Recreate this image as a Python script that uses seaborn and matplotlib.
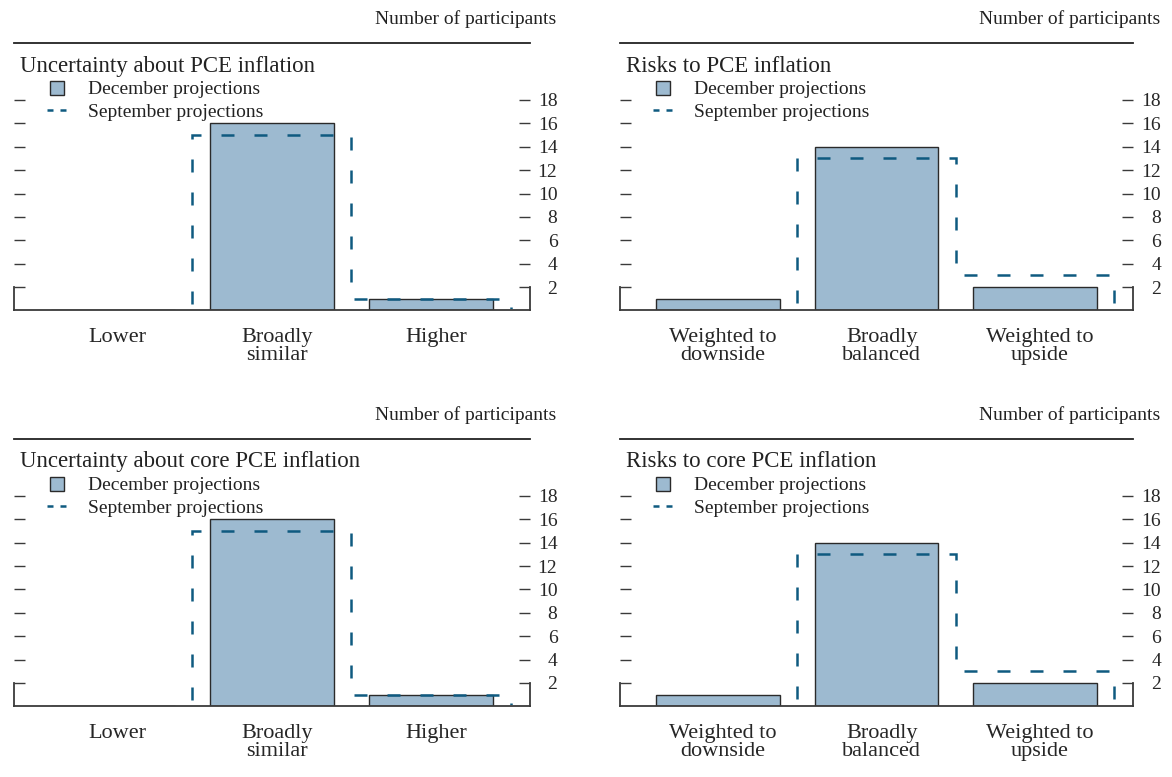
import matplotlib
matplotlib.use("Agg")
import matplotlib.pyplot as plt
from matplotlib.lines import Line2D
from matplotlib.patches import Rectangle
from matplotlib.transforms import ScaledTranslation
import numpy as np
import seaborn as sns

# panel titles
titles = [
    "Uncertainty about PCE inflation",
    "Risks to PCE inflation",
    "Uncertainty about core PCE inflation",
    "Risks to core PCE inflation",
]

uncert_cats = ["Lower", "Broadly\nsimilar", "Higher"]
risk_cats = ["Weighted to\ndownside", "Broadly\nbalanced", "Weighted to\nupside"]

# December / September counts
dec_pce_unc = [0, 16, 1]
sep_pce_unc = [0, 15, 1]
dec_pce_risk = [1, 14, 2]
sep_pce_risk = [0, 13, 3]
dec_core_unc = [0, 16, 1]
sep_core_unc = [0, 15, 1]
dec_core_risk = [1, 14, 2]
sep_core_risk = [0, 13, 3]

yticks = [2, 4, 6, 8, 10, 12, 14, 16, 18]

bar_col = "#9dbad0"
sep_col = "#0f5a80"
ink = "#3a3a3a"

sns.set_style("white")
plt.rcParams["font.family"] = ["Liberation Serif", "DejaVu Serif"]
plt.rcParams["text.color"] = "#222222"

fig = plt.figure(figsize=(11.72, 7.77), dpi=100)

panels = [
    (titles[0], uncert_cats, dec_pce_unc, sep_pce_unc, [0.0119, 0.6005, 0.4400, 0.3441]),
    (titles[1], risk_cats, dec_pce_risk, sep_pce_risk, [0.529, 0.6005, 0.4380, 0.3441]),
    (titles[2], uncert_cats, dec_core_unc, sep_core_unc, [0.0119, 0.0909, 0.4400, 0.3441]),
    (titles[3], risk_cats, dec_core_risk, sep_core_risk, [0.529, 0.0909, 0.4380, 0.3441]),
]

for title, cats, dec, sep, rect in panels:
    ax = fig.add_axes(rect)
    sns.barplot(x=cats, y=dec, ax=ax, color=bar_col, saturation=1,
                edgecolor="#2a2a2a", linewidth=1.0, width=0.78, zorder=1)
    st = ax.stairs(sep, np.arange(len(sep) + 1) - 0.5, baseline=0, color=sep_col,
                   lw=1.8, ls=(0, (5.2, 8)), zorder=2)
    # keep the zero segments hidden under the axis line
    st.set_clip_path(Rectangle((-1, 0.12), 5, 30, transform=ax.transData))

    ax.set_xlim(-0.62, 2.62)
    ax.set_ylim(0, 22.87)
    ax.set_xlabel("")
    ax.set_ylabel("")

    for s in ["left", "right"]:
        ax.spines[s].set_bounds(0, 2)
    for s in ax.spines.values():
        s.set_color(ink)
        s.set_linewidth(1.3)
    ax.spines["top"].set_color("#222222")

    ax.set_yticks(yticks)
    ax.set_yticklabels([str(v) for v in yticks])
    ax.tick_params(axis="y", left=True, right=True, labelleft=False,
                   labelright=True, direction="in", length=8, width=1,
                   color=ink, pad=20, labelsize=14)
    for t in ax.yaxis.get_major_ticks():
        t.label2.set_horizontalalignment("right")

    ax.set_xticks(range(len(cats)))
    ax.set_xticklabels(cats, fontsize=16, linespacing=0.9)
    ax.tick_params(axis="x", length=0, pad=13)
    shift = ScaledTranslation(5 / 100, 0, fig.dpi_scale_trans)
    for lbl in ax.get_xticklabels():
        lbl.set_transform(lbl.get_transform() + shift)

    ax.text(1.052, 1.09, "Number of participants", transform=ax.transAxes,
            ha="right", va="center", fontsize=14)
    ax.text(0.0125, 0.914, title, transform=ax.transAxes,
            ha="left", va="center", fontsize=16.5)

    handles = [
        Line2D([], [], ls="none", marker="s", markersize=9.5,
               markerfacecolor=bar_col, markeredgecolor="#2a2a2a",
               markeredgewidth=1.0),
        Line2D([], [], color=sep_col, lw=1.8, ls=(0, (2.4, 2.8))),
    ]
    ax.legend(handles, ["December projections", "September projections"],
              loc="upper left", bbox_to_anchor=(0.064, 0.859), frameon=False,
              fontsize=14, handlelength=1.0, handletextpad=1.1,
              labelspacing=0.25, borderpad=0, borderaxespad=0)

fig.savefig("out.png", dpi=100)
